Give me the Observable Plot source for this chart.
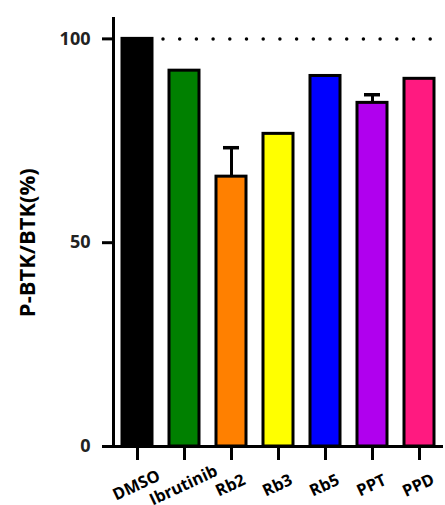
<!DOCTYPE html>
<html>
<head>
<meta charset="utf-8">
<script src="https://cdn.jsdelivr.net/npm/d3@7"></script>
<script src="https://cdn.jsdelivr.net/npm/@observablehq/plot@0.6"></script>
<style>
  html, body { margin: 0; padding: 0; background: #fff; }
</style>
</head>
<body>
<div id="chart"></div>
<script>
const categories = ["DMSO", "Ibrutinib", "Rb2", "Rb3", "Rb5", "PPT", "PPD"];
const values = [100, 92.2, 66.2, 76.7, 90.9, 84.3, 90.2];
const errors = [0, 0, 7.1, 0, 0, 2.0, 0];
const colors = ["#000000", "#008000", "#ff8000", "#ffff00", "#0000ff", "#b000ee", "#ff1a80"];
const yTicks = [0, 50, 100];
const referenceLine = [100];

const data = categories.map((c, i) => ({ cat: c, value: values[i], err: errors[i], fillColor: colors[i] }));
const errData = data.filter(d => d.err > 0);

const font = "'Open Sans', 'Liberation Sans', Arial, sans-serif";

const chart = Plot.plot({
  width: 445,
  height: 505,
  marginLeft: 113,
  marginRight: 2,
  marginTop: 18,
  marginBottom: 59,
  style: { fontFamily: font },
  x: { domain: categories, paddingInner: 0.36, paddingOuter: 0.12, axis: null },
  y: { domain: [0, 105], axis: null },
  color: { type: "identity" },
  marks: [
    // dotted reference line at 100
    Plot.ruleY(referenceLine, { insetLeft: 50, stroke: "#000", strokeWidth: 3.5, strokeDasharray: "0 16.7", strokeLinecap: "round" }),
    // error bars
    Plot.ruleX(errData, { x: "cat", y1: "value", y2: d => d.value + d.err, stroke: "#000", strokeWidth: 3 }),
    Plot.tickY(errData, { x: "cat", y: d => d.value + d.err, stroke: "#000", strokeWidth: 3.5, inset: 7 }),
    // bars
    Plot.barY(data, { x: "cat", y: "value", fill: "fillColor", stroke: "#000", strokeWidth: 3 }),
    // axis lines
    Plot.frame({ anchor: "left", stroke: "#000", strokeWidth: 3 }),
    Plot.ruleY([0], { stroke: "#000", strokeWidth: 3, insetLeft: -10 }),
    // y axis
    Plot.axisY(yTicks, {
      ticks: yTicks, tickSize: 11, tickPadding: 12, strokeWidth: 3, stroke: "#000",
      fontSize: 18, fontWeight: "bold", fill: "#222",
      label: null
    }),
    // x labels rotated
    Plot.text(data, {
      x: "cat", y: 0, text: "cat", dy: 39, dx: -1, rotate: -25, textAnchor: "middle",
      fontSize: 16.5, fontWeight: "bold", fill: "#000"
    }),
    // y label
    Plot.text(["P-BTK/BTK(%)"], {
      text: d => d, frameAnchor: "left", dx: -86, y: 50, rotate: -90, textAnchor: "middle",
      fontSize: 22, fontWeight: "bold", fill: "#000"
    }),
    // x axis ticks (below baseline), drawn last
    Plot.axisX({ tickSize: 14, strokeWidth: 3, stroke: "#000", tickFormat: () => "", label: null }),
    Plot.ruleX(data, { x: "cat", y1: d => 0, y2: d => -3.4, stroke: "#000", strokeWidth: 3 })
  ]
});
document.getElementById("chart").appendChild(chart);
</script>
</body>
</html>
